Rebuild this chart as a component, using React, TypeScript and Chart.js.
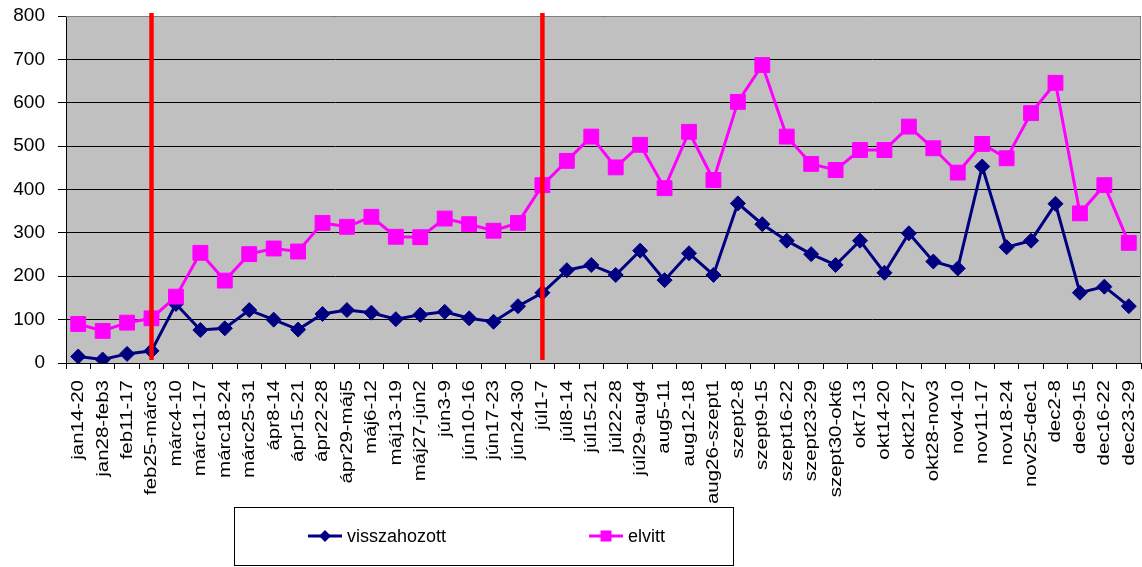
import React, { useEffect, useRef } from 'react';
import { Chart, registerables } from 'chart.js';

Chart.register(...registerables);

// Weekly periods shown on the category axis
const categories = [
  'jan14-20', 'jan28-feb3', 'feb11-17', 'feb25-márc3', 'márc4-10', 'márc11-17',
  'márc18-24', 'márc25-31', 'ápr8-14', 'ápr15-21', 'ápr22-28', 'ápr29-máj5',
  'máj6-12', 'máj13-19', 'máj27-jún2', 'jún3-9', 'jún10-16', 'jún17-23',
  'jún24-30', 'júl1-7', 'júl8-14', 'júl15-21', 'júl22-28', 'júl29-aug4',
  'aug5-11', 'aug12-18', 'aug26-szept1', 'szept2-8', 'szept9-15', 'szept16-22',
  'szept23-29', 'szept30-okt6', 'okt7-13', 'okt14-20', 'okt21-27', 'okt28-nov3',
  'nov4-10', 'nov11-17', 'nov18-24', 'nov25-dec1', 'dec2-8', 'dec9-15',
  'dec16-22', 'dec23-29',
];

const returnedValues = [
  15, 8, 21, 28, 136, 76, 80, 122, 100, 77, 113, 122, 116, 101,
  111, 118, 103, 95, 131, 162, 214, 226, 203, 259, 191, 253, 203, 368, 320,
  282, 251, 226, 282, 208, 299, 234, 218, 453, 267, 282, 367, 162, 176, 131,
];

const takenValues = [
  90, 74, 93, 103, 153, 254, 190, 251, 264, 257, 323, 314, 337, 291,
  290, 333, 320, 305, 323, 410, 466, 522, 451, 503, 403, 533, 422, 602, 687,
  522, 459, 445, 491, 491, 545, 495, 439, 505, 472, 576, 646, 345, 410, 277,
];

const seriesNames = ['visszahozott', 'elvitt'];
const seriesColors = ['#000080', '#FF00FF'];

// Periods marked with a red vertical line
const markerCategories = ['feb25-márc3', 'júl1-7'];

const yMin = 0;
const yMax = 800;
const yStep = 100;

const FONT = '"Liberation Sans", Arial, Helvetica, sans-serif';

const clearPadding = (scale: any) => {
  scale.paddingTop = 0;
  scale.paddingBottom = 0;
  scale.paddingLeft = 0;
  scale.paddingRight = 0;
};

const decorPlugin = {
  id: 'decor',
  beforeDraw(chart: any) {
    const { ctx, chartArea } = chart;
    ctx.save();
    ctx.fillStyle = '#C0C0C0';
    ctx.fillRect(chartArea.left, chartArea.top, chartArea.right - chartArea.left, chartArea.bottom - chartArea.top);
    ctx.restore();
  },
  beforeDatasetsDraw(chart: any) {
    const { ctx, chartArea } = chart;
    ctx.save();
    ctx.strokeStyle = '#808080';
    ctx.lineWidth = 1;
    ctx.beginPath();
    ctx.moveTo(chartArea.left, chartArea.top + 0.5);
    ctx.lineTo(chartArea.right - 0.5, chartArea.top + 0.5);
    ctx.lineTo(chartArea.right - 0.5, chartArea.bottom);
    ctx.stroke();
    ctx.restore();
  },
  afterDatasetsDraw(chart: any) {
    const { ctx, chartArea } = chart;
    const xs = chart.scales.x;
    ctx.save();
    ctx.strokeStyle = '#FF0000';
    ctx.lineWidth = 4.5;
    markerCategories.forEach((c) => {
      const x = xs.getPixelForValue(categories.indexOf(c));
      ctx.beginPath();
      ctx.moveTo(x, chartArea.top - 3);
      ctx.lineTo(x, chartArea.bottom - 3);
      ctx.stroke();
    });
    ctx.restore();
  },
  afterDraw(chart: any) {
    const { ctx } = chart;
    const xs = chart.scales.x;

    // rotated category labels
    ctx.save();
    ctx.font = `16px ${FONT}`;
    ctx.fillStyle = '#000';
    ctx.textAlign = 'right';
    ctx.textBaseline = 'middle';
    categories.forEach((c, i) => {
      const x = xs.getPixelForValue(i);
      ctx.save();
      ctx.translate(x + 0.5, xs.top + 17);
      ctx.rotate(-Math.PI / 2);
      ctx.scale(1.28, 1);
      ctx.fillText(c, 0, 0);
      ctx.restore();
    });
    ctx.restore();

    // boxed legend
    ctx.save();
    ctx.strokeStyle = '#000';
    ctx.lineWidth = 1;
    ctx.strokeRect(234.5, 507.5, 499, 58);
    const items = [
      { x: 308, style: 'diamond' },
      { x: 589, style: 'square' },
    ];
    const y = 536;
    items.forEach((it, i) => {
      const color = seriesColors[i];
      ctx.strokeStyle = color;
      ctx.fillStyle = color;
      ctx.lineWidth = 3;
      ctx.beginPath();
      ctx.moveTo(it.x, y);
      ctx.lineTo(it.x + 34, y);
      ctx.stroke();
      const cx = it.x + 17;
      ctx.beginPath();
      if (it.style === 'diamond') {
        ctx.moveTo(cx, y - 6);
        ctx.lineTo(cx + 6, y);
        ctx.lineTo(cx, y + 6);
        ctx.lineTo(cx - 6, y);
        ctx.closePath();
      } else {
        ctx.rect(cx - 5.5, y - 5.5, 11, 11);
      }
      ctx.fill();
      ctx.fillStyle = '#000';
      ctx.font = `18px ${FONT}`;
      ctx.textAlign = 'left';
      ctx.textBaseline = 'middle';
      ctx.fillText(seriesNames[i], it.x + 39, y + 1);
    });
    ctx.restore();
  },
};

export default function App() {
  const canvasRef = useRef<HTMLCanvasElement | null>(null);

  useEffect(() => {
    const canvas = canvasRef.current;
    if (!canvas) return;
    const chart = new Chart(canvas, {
      type: 'line',
      data: {
        labels: categories,
        datasets: [
          {
            label: seriesNames[0],
            data: returnedValues,
            borderColor: seriesColors[0],
            backgroundColor: seriesColors[0],
            borderWidth: 3,
            pointStyle: 'rectRot',
            pointRadius: 7.5,
            pointBorderWidth: 1,
            tension: 0,
            order: 2,
          },
          {
            label: seriesNames[1],
            data: takenValues,
            borderColor: seriesColors[1],
            backgroundColor: seriesColors[1],
            borderWidth: 3,
            pointStyle: 'rect',
            pointRadius: 10.5,
            pointBorderWidth: 1,
            tension: 0,
            order: 1,
          },
        ],
      },
      options: {
        animation: false,
        responsive: false,
        devicePixelRatio: 1,
        layout: { autoPadding: false, padding: { top: 16, right: 1, left: 0, bottom: 0 } },
        plugins: {
          legend: { display: false },
          tooltip: { enabled: false },
        },
        scales: {
          x: {
            type: 'category',
            offset: true,
            grid: {
              offset: true,
              drawOnChartArea: false,
              drawTicks: true,
              tickLength: 6,
              color: '#000',
            },
            border: { color: '#000', width: 1 },
            ticks: { display: false },
            afterFit: (scale: any) => {
              scale.height = 204;
              clearPadding(scale);
            },
          },
          y: {
            min: yMin,
            max: yMax,
            ticks: {
              stepSize: yStep,
              color: '#000',
              padding: 13,
              font: { size: 19, family: FONT },
            },
            grid: { color: '#000', tickLength: 8, lineWidth: 1 },
            border: { color: '#000', width: 1 },
            afterFit: (scale: any) => {
              scale.width = 66;
              clearPadding(scale);
            },
          },
        },
      },
      plugins: [decorPlugin],
    });
    return () => chart.destroy();
  }, []);

  return (
    <div style={{ position: 'absolute', left: 0, top: 0, width: 1142, height: 567, background: '#fff' }}>
      <canvas ref={canvasRef} width={1142} height={567} style={{ display: 'block' }} />
    </div>
  );
}
